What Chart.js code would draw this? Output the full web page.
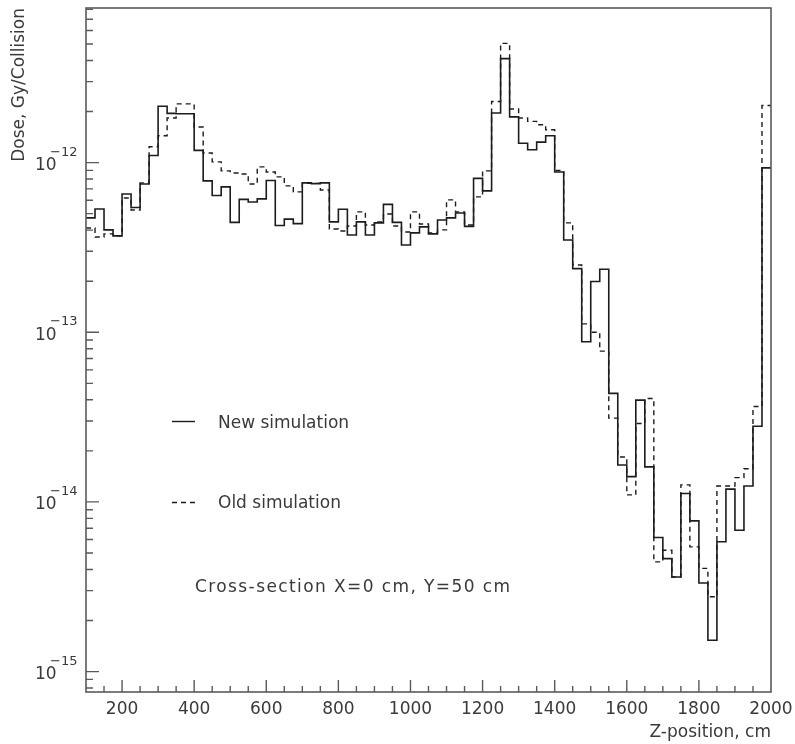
<!DOCTYPE html>
<html>
<head>
<meta charset="utf-8">
<script src="https://cdn.jsdelivr.net/npm/chart.js@4.4.1/dist/chart.umd.min.js"></script>
<style>
  html, body { margin: 0; padding: 0; background: #fff; }
  #wrap { position: relative; width: 795px; height: 744px; }
</style>
</head>
<body>
<div id="wrap"><canvas id="c" width="795" height="744"></canvas></div>
<script>
// ---------- DATA ----------
// left edges of the 25 cm bins (Z-position, cm)
const binStarts = [100,125,150,175,200,225,250,275,300,325,350,375,400,425,450,475,500,525,550,575,
  600,625,650,675,700,725,750,775,800,825,850,875,900,925,950,975,1000,1025,1050,1075,
  1100,1125,1150,1175,1200,1225,1250,1275,1300,1325,1350,1375,1400,1425,1450,1475,1500,1525,1550,1575,
  1600,1625,1650,1675,1700,1725,1750,1775,1800,1825,1850,1875,1900,1925,1950,1975];
const binEnd = 2000;

// Dose, Gy/Collision — new simulation (solid)
const newSim = [
  4.72e-13, 5.33e-13, 4.01e-13, 3.70e-13, 6.53e-13, 5.44e-13, 7.48e-13, 1.10e-12, 2.15e-12, 1.95e-12,
  1.94e-12, 1.94e-12, 1.18e-12, 7.80e-13, 6.40e-13, 7.19e-13, 4.44e-13, 6.07e-13, 5.86e-13, 6.11e-13,
  7.85e-13, 4.26e-13, 4.64e-13, 4.37e-13, 7.59e-13, 7.52e-13, 7.59e-13, 4.47e-13, 5.31e-13, 3.74e-13,
  4.47e-13, 3.74e-13, 4.41e-13, 5.67e-13, 4.44e-13, 3.27e-13, 3.85e-13, 4.18e-13, 3.80e-13, 4.59e-13,
  4.72e-13, 5.05e-13, 4.21e-13, 8.07e-13, 6.81e-13, 1.96e-12, 4.10e-12, 1.86e-12, 1.30e-12, 1.19e-12,
  1.32e-12, 1.44e-12, 8.81e-13, 3.50e-13, 2.37e-13, 8.79e-14, 1.99e-13, 2.35e-13, 4.36e-14, 1.65e-14,
  1.41e-14, 3.98e-14, 1.61e-14, 6.17e-15, 4.63e-15, 3.61e-15, 1.12e-14, 7.73e-15, 3.33e-15, 1.53e-15,
  5.82e-15, 1.19e-14, 6.81e-15, 1.24e-14, 2.79e-14, 9.31e-13
];

// Dose, Gy/Collision — old simulation (dashed)
const oldSim = [
  4.12e-13, 3.64e-13, 3.80e-13, 3.70e-13, 6.19e-13, 5.26e-13, 7.59e-13, 1.24e-12, 1.44e-12, 1.83e-12,
  2.22e-12, 2.22e-12, 1.62e-12, 1.14e-12, 1.01e-12, 8.94e-13, 8.69e-13, 8.57e-13, 7.48e-13, 9.43e-13,
  8.81e-13, 8.24e-13, 7.29e-13, 6.72e-13, 7.54e-13, 7.54e-13, 6.90e-13, 4.06e-13, 3.95e-13, 4.23e-13,
  5.12e-13, 4.29e-13, 4.47e-13, 4.98e-13, 4.23e-13, 3.90e-13, 5.12e-13, 4.35e-13, 3.85e-13, 4.01e-13,
  6.03e-13, 5.12e-13, 4.29e-13, 6.28e-13, 8.94e-13, 2.29e-12, 5.04e-12, 2.07e-12, 1.83e-12, 1.75e-12,
  1.67e-12, 1.56e-12, 8.99e-13, 4.41e-13, 2.49e-13, 1.12e-13, 1.00e-13, 7.74e-14, 3.12e-14, 1.84e-14,
  1.10e-14, 2.90e-14, 4.07e-14, 4.43e-15, 5.19e-15, 3.61e-15, 1.26e-14, 5.43e-15, 4.06e-15, 2.76e-15,
  1.24e-14, 1.24e-14, 1.39e-14, 1.57e-14, 3.65e-14, 2.17e-12
];

// tick labels
const xTickLabels = [200, 400, 600, 800, 1000, 1200, 1400, 1600, 1800, 2000];
const yDecades = [-15, -14, -13, -12];

// texts
const yTitle = 'Dose, Gy/Collision';
const xTitle = 'Z-position, cm';
const seriesNames = ['New simulation', 'Old simulation'];
const note = 'Cross-section X=0 cm, Y=50 cm';

// ---------- CHART ----------
const FONT = '"DejaVu Sans", "Liberation Sans", sans-serif';
const TXT = '#3a3a3a';
const LINE = '#1c1c1c';

function histPoints(vals) {
  const pts = binStarts.map((x, i) => ({ x: x, y: vals[i] }));
  pts.push({ x: binEnd, y: vals[vals.length - 1] });
  return pts;
}

const decor = {
  id: 'decor',
  afterDatasetsDraw(chart) {
    const { ctx, chartArea: a, scales: { x, y } } = chart;
    ctx.save();
    // frame
    ctx.strokeStyle = '#5a5a5a';
    ctx.lineWidth = 1.6;
    ctx.strokeRect(a.left, a.top, a.right - a.left, a.bottom - a.top);

    // y-axis ticks (inside)
    ctx.lineWidth = 1.4;
    ctx.beginPath();
    for (let e = -16; e <= -11; e++) {
      for (let m = 1; m <= 9; m++) {
        const v = m * Math.pow(10, e);
        if (v < y.min || v > y.max) continue;
        const py = y.getPixelForValue(v);
        ctx.moveTo(a.left, py);
        ctx.lineTo(a.left + (m === 1 ? 13 : 7), py);
      }
    }
    // x-axis ticks (inside)
    for (let v = 150; v < 2000; v += 50) {
      const px = x.getPixelForValue(v);
      ctx.moveTo(px, a.bottom);
      ctx.lineTo(px, a.bottom - (v % 200 === 0 ? 12 : 6));
    }
    ctx.stroke();

    // y labels 10^n
    ctx.fillStyle = TXT;
    ctx.textAlign = 'left';
    ctx.textBaseline = 'alphabetic';
    yDecades.forEach(e => {
      const py = y.getPixelForValue(Math.pow(10, e));
      ctx.font = '17px ' + FONT;
      ctx.fillText('10', 35, py + 7.5);
      ctx.font = '13px ' + FONT;
      ctx.fillText('\u2212' + Math.abs(e), 50, py - 7);
    });

    // legend
    ctx.strokeStyle = LINE;
    ctx.lineWidth = 1.4;
    ctx.beginPath();
    ctx.moveTo(172, 421.5); ctx.lineTo(195, 421.5);
    ctx.stroke();
    ctx.setLineDash([5, 4]);
    ctx.beginPath();
    ctx.moveTo(172, 502.5); ctx.lineTo(195, 502.5);
    ctx.stroke();
    ctx.setLineDash([]);
    ctx.font = '17px ' + FONT;
    ctx.fillText(seriesNames[0], 218, 428);
    ctx.fillText(seriesNames[1], 218, 508);
    try { ctx.letterSpacing = '1.4px'; } catch (err) {}
    ctx.fillText(note, 195, 592);
    try { ctx.letterSpacing = '0px'; } catch (err) {}
    ctx.restore();
  }
};

new Chart(document.getElementById('c'), {
  type: 'line',
  data: {
    datasets: [
      {
        label: seriesNames[0],
        data: histPoints(newSim),
        stepped: 'before',
        borderColor: LINE,
        borderWidth: 1.6,
        pointRadius: 0,
        fill: false
      },
      {
        label: seriesNames[1],
        data: histPoints(oldSim),
        stepped: 'before',
        borderColor: LINE,
        borderWidth: 1.4,
        borderDash: [5, 4],
        pointRadius: 0,
        fill: false
      }
    ]
  },
  options: {
    responsive: false,
    animation: false,
    devicePixelRatio: 1,
    layout: { autoPadding: false, padding: { top: 8, right: 24, bottom: 0, left: 0 } },
    plugins: { legend: { display: false }, tooltip: { enabled: false } },
    scales: {
      x: {
        type: 'linear',
        min: 100,
        max: 2000,
        afterBuildTicks: s => { s.ticks = xTickLabels.map(v => ({ value: v })); },
        afterFit: s => { s.height = 52; s.paddingLeft = 0; s.paddingRight = 0; },
        grid: { display: false, drawTicks: false },
        border: { display: false },
        ticks: {
          autoSkip: false, maxRotation: 0, minRotation: 0,
          padding: 7,
          color: TXT,
          font: { family: FONT, size: 17 },
          callback: v => String(v)
        },
        title: {
          display: true, text: xTitle, align: 'end', color: TXT,
          font: { family: FONT, size: 17 },
          padding: { top: 0, bottom: 1 }
        }
      },
      y: {
        type: 'logarithmic',
        min: 7.58e-16,
        max: 8.15e-12,
        afterFit: s => { s.width = 86; s.paddingTop = 0; s.paddingBottom = 0; },
        grid: { display: false, drawTicks: false },
        border: { display: false },
        ticks: { display: false },
        title: {
          display: true, text: yTitle, align: 'end', color: TXT,
          font: { family: FONT, size: 17 },
          padding: { top: 9, bottom: 0 }
        }
      }
    }
  },
  plugins: [decor]
});
</script>
</body>
</html>
